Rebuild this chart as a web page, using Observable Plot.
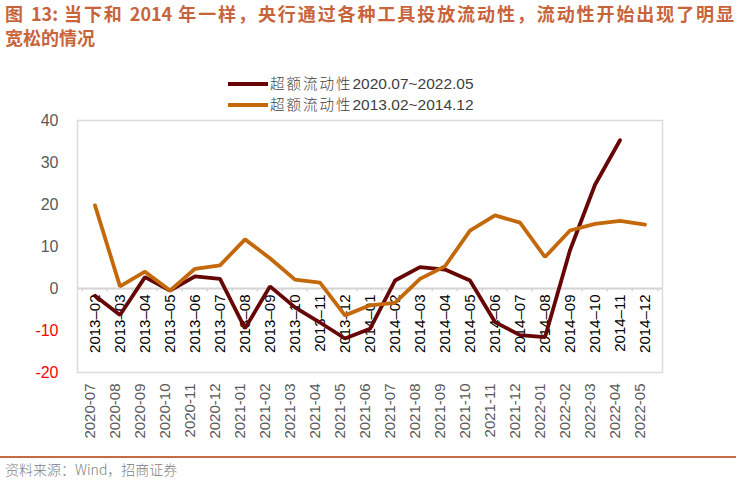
<!DOCTYPE html>
<html>
<head>
<meta charset="utf-8">
<script src="https://cdn.jsdelivr.net/npm/d3@7"></script>
<script src="https://cdn.jsdelivr.net/npm/@observablehq/plot@0.6"></script>
<style>
  html, body { margin: 0; padding: 0; background: #fff; }
  #wrap { position: relative; width: 740px; height: 482px; overflow: hidden; font-family: "Liberation Sans", "Noto Sans CJK SC", sans-serif; }
  #title { position: absolute; left: 5px; top: 1px; width: 729px; color: #C8643C; font-family: "Noto Sans CJK SC", sans-serif; font-weight: bold; font-size: 18px; line-height: 24px; }
  #title .l1 { text-align: justify; text-align-last: justify; }
  #legend { position: absolute; left: 228px; top: 73px; font-size: 15.5px; color: #404040; }
  .row { position: relative; height: 21px; line-height: 20px; white-space: nowrap; }
  .sw { position: absolute; left: 0; top: 9px; width: 40px; height: 4px; }
  .lt { position: absolute; left: 42px; top: 0; }
  .lt .cjk { font-family: "Noto Sans CJK SC", sans-serif; font-size: 14.5px; letter-spacing: 2px; font-weight: 300; }
  #chart { position: absolute; left: 0; top: 112px; }
  #chart svg { overflow: visible; }
  #rule { position: absolute; left: 0; top: 456px; width: 736px; height: 2px; background: #C56B46; }
  #foot { position: absolute; left: 5px; top: 459px; font-size: 14px; color: #808080; font-family: "Noto Sans CJK SC", "Liberation Sans", sans-serif; font-weight: 300; }
</style>
</head>
<body>
<div id="wrap">
  <div id="title">
    <div class="l1">图 13: 当下和 2014 年一样，央行通过各种工具投放流动性，流动性开始出现了明显</div>
    <div class="l2">宽松的情况</div>
  </div>
  <div id="legend"></div>
  <div id="chart"></div>
  <div id="rule"></div>
  <div id="foot">资料来源：Wind，招商证券</div>
</div>
<script>
const labels13 = ["2013-02","2013-03","2013-04","2013-05","2013-06","2013-07","2013-08","2013-09","2013-10","2013-11","2013-12","2014-01","2014-02","2014-03","2014-04","2014-05","2014-06","2014-07","2014-08","2014-09","2014-10","2014-11","2014-12"];
const labels20 = ["2020-07","2020-08","2020-09","2020-10","2020-11","2020-12","2021-01","2021-02","2021-03","2021-04","2021-05","2021-06","2021-07","2021-08","2021-09","2021-10","2021-11","2021-12","2022-01","2022-02","2022-03","2022-04","2022-05"];
const series13 = [19.8, 0.5, 4.0, -0.5, 4.7, 5.5, 11.7, 7.2, 2.1, 1.4, -6.4, -4.0, -3.4, 2.3, 5.3, 13.8, 17.4, 15.7, 7.5, 13.8, 15.4, 16.1, 15.2];
const series20 = [-1.7, -6.3, 2.7, -0.5, 2.9, 2.3, -9.5, 0.5, -4.5, -8.1, -11.9, -9.6, 1.9, 5.1, 4.5, 1.9, -8.0, -11.1, -11.6, 9.1, 24.7, 35.3, null];
const yTicks = [40, 30, 20, 10, 0, -10, -20];
const legendNames = ["超额流动性", "超额流动性"];
const legendRanges = ["2020.07~2022.05", "2013.02~2014.12"];
const colors = ["#660606", "#C4680C"];

// legend
const lg = document.getElementById("legend");
legendNames.forEach((n, i) => {
  const r = document.createElement("div");
  r.className = "row";
  r.innerHTML = `<div class="sw" style="background:${colors[i]}"></div><div class="lt"><span class="cjk">${n}</span>${legendRanges[i]}</div>`;
  lg.appendChild(r);
});

const W = 740, H = 342, mL = 77, mR = 78, mT = 8, mB = 82;
const bw = (W - mL - mR) / labels13.length;

const d13 = labels13.map((k, i) => ({k, v: series13[i]}));
const d20 = labels13.map((k, i) => ({k, v: series20[i]})).filter(d => d.v != null);

const chart = Plot.plot({
  width: W, height: H,
  marginLeft: mL, marginRight: mR, marginTop: mT, marginBottom: mB,
  style: {fontFamily: "Liberation Sans, Arial, sans-serif", background: "transparent"},
  x: {type: "band", domain: labels13, padding: 0, axis: null},
  y: {domain: [-20, 40], axis: null},
  marks: [
    Plot.frame({stroke: "#DCDCDC", strokeWidth: 1.5}),
    Plot.ruleY([0], {stroke: "#D4D4D4", strokeWidth: 2}),
    Plot.ruleX(labels13, {x: d => d, y1: 0, y2: -0.8, dx: -bw / 2, stroke: "#D4D4D4", strokeWidth: 1.5}),
    Plot.ruleX([labels13[labels13.length - 1]], {x: d => d, y1: 0, y2: -0.8, dx: bw / 2, stroke: "#D4D4D4", strokeWidth: 1.5}),
    Plot.text(labels13, {x: d => d, y: 0, text: d => d.replace("-", "–"), rotate: -90, textAnchor: "end", dy: 6, fontSize: 15, fill: "#000"}),
    Plot.text(labels20, {x: (d, i) => labels13[i], frameAnchor: "bottom", text: d => d, rotate: -90, textAnchor: "end", dy: 11, fontSize: 15, fill: "#595959"}),
    Plot.text(yTicks, {y: d => d, frameAnchor: "left", dx: -19, textAnchor: "end", text: d => String(d), fontSize: 16, fill: d => d < 0 ? "#FF0000" : "#595959"}),
    Plot.line(d20, {x: "k", y: "v", stroke: colors[0], strokeWidth: 3.8, strokeLinejoin: "miter"}),
    Plot.line(d13, {x: "k", y: "v", stroke: colors[1], strokeWidth: 3.8, strokeLinejoin: "miter"})
  ]
});
document.getElementById("chart").appendChild(chart);
</script>
</body>
</html>
